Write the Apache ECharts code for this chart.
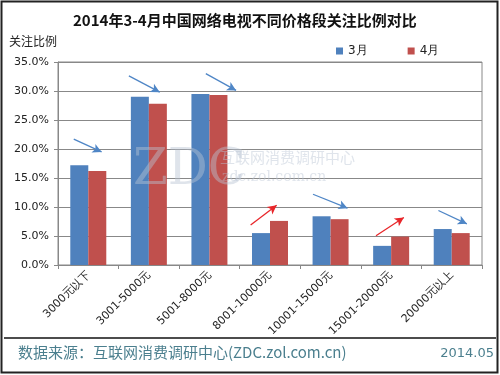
<!DOCTYPE html>
<html><head><meta charset="utf-8">
<script src="https://cdn.jsdelivr.net/npm/echarts@6/dist/echarts.min.js"></script>
<style>html,body{margin:0;padding:0;background:#fff}#c{width:500px;height:375px}</style>
</head><body><div id="c"></div>
<script>
const categories = ['3000元以下','3001-5000元','5001-8000元','8001-10000元','10001-15000元','15001-20000元','20000元以上'];
const march = [17.2, 29.0, 29.5, 5.5, 8.4, 3.3, 6.2];
const april = [16.2, 27.8, 29.3, 7.6, 7.9, 4.9, 5.5];
const yTicks = [0, 5, 10, 15, 20, 25, 30, 35];
// trend arrows: [x0, y0, x1, y1] in (category index, percent)
const arrowsDown = [[-0.24,21.7,0.22,19.5],[0.67,32.6,1.18,29.8],[1.94,33.0,2.44,30.1],[3.71,12.2,4.28,9.8],[5.78,9.4,6.25,7.1]];
const arrowsUp = [[2.68,6.9,3.11,10.3],[4.75,5.05,5.21,8.2]];

const chart = echarts.init(document.getElementById('c'));
const toMark = a => a.map(r => [{coord: [r[0], r[1]]}, {coord: [r[2], r[3]]}]);
const font = 'DejaVu Sans';
const wm = 'rgba(185,195,210,0.45)';
function arrowSeries(arr, color){
  return {type: 'line', xAxisIndex: 1, yAxisIndex: 0, data: [], silent: true, z: 5,
    markLine: {silent: true, symbol: ['none','arrow'], symbolSize: [7, 9], animation: false,
      label: {show: false}, lineStyle: {color: color, width: 1.3, type: 'solid'},
      emphasis: {disabled: true}, data: toMark(arr)}};
}
chart.setOption({
  animation: false,
  backgroundColor: '#fff',
  title: {
    text: '2014年3-4月中国网络电视不同价格段关注比例对比',
    left: 68, top: 8,
    textStyle: {fontFamily: 'Noto Sans CJK SC', fontWeight: 'bold', fontSize: 15, color: '#111'}
  },
  legend: {
    data: ['3月','4月'], left: 331, top: 40, itemWidth: 7, itemHeight: 7, itemGap: 40,
    icon: 'rect',
    textStyle: {fontFamily: font, fontSize: 12, color: '#222'}
  },
  grid: {left: 58, right: 18, top: 62, bottom: 110, show: true, borderColor: '#888', borderWidth: 1},
  xAxis: [{
    type: 'category', data: categories,
    axisLine: {lineStyle: {color: '#888'}},
    axisTick: {show: true, length: 4, lineStyle: {color: '#888'}},
    axisLabel: {rotate: 45, fontFamily: font, fontSize: 11, color: '#222', margin: 8, interval: 0}
  }, {
    type: 'value', min: -0.5, max: 6.5, show: false
  }],
  yAxis: {
    type: 'value', min: 0, max: 35, interval: 5,
    axisLine: {show: true, onZero: false, lineStyle: {color: '#888'}},
    axisTick: {show: true, length: 4, lineStyle: {color: '#888'}},
    splitLine: {lineStyle: {color: '#888'}},
    axisLabel: {fontFamily: font, fontSize: 11, color: '#222', margin: 9,
      formatter: v => yTicks.indexOf(v) >= 0 ? v.toFixed(1) + '%' : ''}
  },
  series: [
    {name: '3月', type: 'bar', data: march, barWidth: 18, barGap: '0%', itemStyle: {color: '#4f81bd'}},
    {name: '4月', type: 'bar', data: april, barWidth: 18, itemStyle: {color: '#c0504d'}},
    arrowSeries(arrowsDown, '#4f86c6'),
    arrowSeries(arrowsUp, '#e8262a')
  ],
  graphic: [
    {type: 'rect', shape: {x: 1.5, y: 1.5, width: 496, height: 371}, style: {fill: 'none', stroke: '#222', lineWidth: 2}, z: 100},
    {type: 'line', shape: {x1: 4, y1: 338, x2: 496, y2: 338}, style: {stroke: '#111', lineWidth: 1.5}},
    {type: 'text', left: 9, top: 35, style: {text: '关注比例', font: '12px "Noto Sans CJK SC"', fill: '#222'}},
    {type: 'text', left: 18, top: 345, style: {text: '数据来源：互联网消费调研中心(ZDC.zol.com.cn)', font: '15px "Noto Sans CJK SC"', fill: '#4b7f8e'}},
    {type: 'text', right: 6, top: 347, style: {text: '2014.05', font: '13px "DejaVu Sans"', fill: '#4b7f8e'}},
    {type: 'text', left: 133, top: 146, style: {text: 'ZDC', font: '50px "DejaVu Serif"', fill: wm}, z: 10},
    {type: 'text', left: 220, top: 150, style: {text: '互联网消费调研中心', font: '15px "Noto Sans CJK SC"', fill: wm}, z: 10},
    {type: 'text', left: 222, top: 170, style: {text: 'zdc.zol.com.cn', font: '14px "DejaVu Serif"', fill: wm}, z: 10}
  ]
});
</script></body></html>
